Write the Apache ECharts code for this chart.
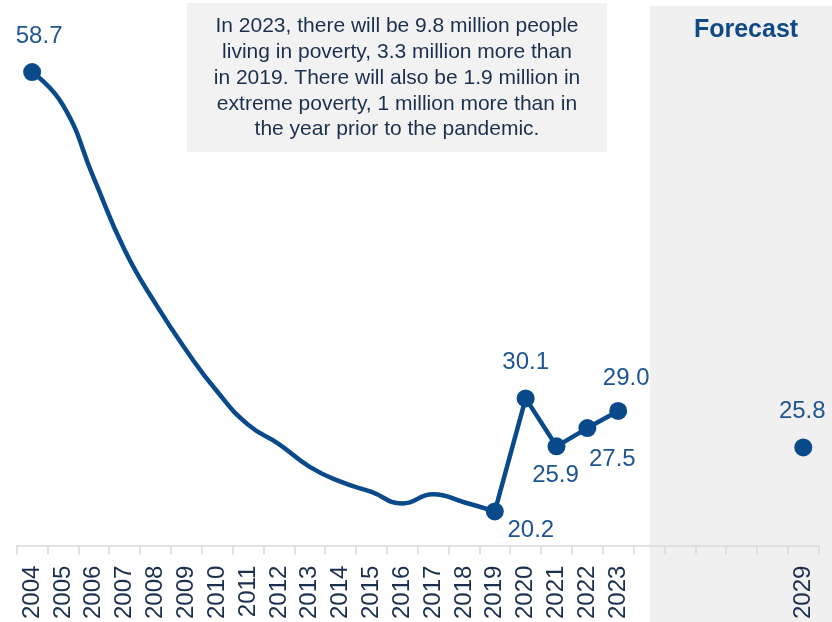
<!DOCTYPE html>
<html>
<head>
<meta charset="utf-8">
<script src="https://cdn.jsdelivr.net/npm/echarts@6/dist/echarts.min.js"></script>
<style>
html,body{margin:0;padding:0;background:#fff;}
#chart{width:832px;height:622px;}
</style>
</head>
<body>
<div id="chart"></div>
<script>
// Categories (years) on the x axis
const years = ['2004','2005','2006','2007','2008','2009','2010','2011','2012','2013','2014','2015','2016','2017','2018','2019','2020','2021','2022','2023','2024','2025','2026','2027','2028','2029'];
// Tick labels actually shown
const shownTickLabels = ['2004','2005','2006','2007','2008','2009','2010','2011','2012','2013','2014','2015','2016','2017','2018','2019','2020','2021','2022','2023','2029'];
// Poverty rate (%) 2004-2019 (smoothed history)
const historyYears = ['2004','2005','2006','2007','2008','2009','2010','2011','2012','2013','2014','2015','2016','2017','2018','2019'];
const historyValues = [58.7, 55.8, 49.4, 43.1, 38.4, 34.3, 30.7, 27.8, 26.1, 24.1, 22.8, 21.9, 20.9, 21.7, 21.0, 20.2];
// Poverty rate 2019-2023
const recentYears = ['2019','2020','2021','2022','2023'];
const recentValues = [20.2, 30.1, 25.9, 27.5, 29.0];
// Forecast
const forecastYears = ['2029'];
const forecastValues = [25.8];
// Labelled points
const labelledYears = ['2004','2019','2020','2021','2022','2023','2029'];

const annotationText = 'In 2023, there will be 9.8 million people\nliving in poverty, 3.3 million more than\nin 2019. There will also be 1.9 million in\nextreme poverty, 1 million more than in\nthe year prior to the pandemic.';

const LINE = '#0a4a8a';
const LABEL = '#1d5593';
const TEXT = '#1b2f4e';
const FONT = '"Liberation Sans", Arial, sans-serif';

// label offsets (style) per labelled year
const labelOffsets = {
  '2004': [7, -36], '2019': [36, 19], '2020': [0, -36], '2021': [-1, 29],
  '2022': [25, 31], '2023': [8, -33], '2029': [-1, -36]
};

function valueOf(year) {
  let i = historyYears.indexOf(year);
  if (i >= 0 && year !== '2019') return historyValues[i];
  i = recentYears.indexOf(year);
  if (i >= 0) return recentValues[i];
  i = forecastYears.indexOf(year);
  if (i >= 0) return forecastValues[i];
  return null;
}

const chart = echarts.init(document.getElementById('chart'), null, {renderer: 'canvas'});

const option = {
  animation: false,
  backgroundColor: '#ffffff',
  grid: {left: 16.7, right: 13.3, top: 7, bottom: 75.5, containLabel: false},
  xAxis: {
    type: 'category',
    data: years,
    boundaryGap: true,
    axisLine: {show: true, lineStyle: {color: '#d9d9d9', width: 1.5}},
    axisTick: {show: true, length: 9, lineStyle: {color: '#d9d9d9', width: 1.5}, alignWithLabel: false, interval: 0},
    axisLabel: {
      interval: 0, rotate: 90, margin: 20,
      color: TEXT, fontSize: 24, fontFamily: FONT,
      formatter: v => shownTickLabels.indexOf(v) >= 0 ? v : ''
    },
    splitLine: {show: false}
  },
  yAxis: {type: 'value', min: 17.2, max: 64.4, show: false, splitLine: {show: false}},
  series: [
    {
      type: 'line', smooth: 0.5, symbol: 'none', z: 3,
      lineStyle: {color: LINE, width: 4.5},
      data: historyYears.map((y, i) => [y, historyValues[i]])
    },
    {
      type: 'line', smooth: false, symbol: 'none', z: 3,
      lineStyle: {color: LINE, width: 4.5},
      data: recentYears.map((y, i) => [y, recentValues[i]])
    },
    {
      type: 'scatter', symbol: 'circle', symbolSize: 18, z: 4,
      itemStyle: {color: LINE, opacity: 1},
      data: labelledYears.map(y => ({
        value: [y, valueOf(y)],
        label: {
          show: true, position: 'inside', offset: labelOffsets[y],
          formatter: p => p.value[1].toFixed(1),
          color: LABEL, fontSize: 24, fontFamily: FONT
        }
      }))
    }
  ]
};
chart.setOption(option);

const shadeLeft = chart.convertToPixel({xAxisIndex: 0}, '2024');
chart.setOption({
  graphic: [
    {
      type: 'rect', z: -10, silent: true,
      shape: {x: shadeLeft + 1, y: 6, width: 832 - shadeLeft, height: 622},
      style: {fill: '#f0f0f0'}
    },
    {
      type: 'text', z: 10, silent: true,
      x: (shadeLeft + 1 + 832) / 2 + 5, y: 30,
      style: {text: 'Forecast', fill: '#0f4a87', font: 'bold 25px ' + FONT, align: 'center', verticalAlign: 'middle'}
    },
    {
      type: 'rect', z: 10, silent: true,
      shape: {x: 187, y: 3, width: 420, height: 149},
      style: {fill: '#f2f2f2'}
    },
    {
      type: 'text', z: 11, silent: true,
      x: 397, y: 78,
      style: {text: annotationText, fill: TEXT, font: '21px ' + FONT, lineHeight: 25.8, align: 'center', verticalAlign: 'middle'}
    }
  ]
});
</script>
</body>
</html>
